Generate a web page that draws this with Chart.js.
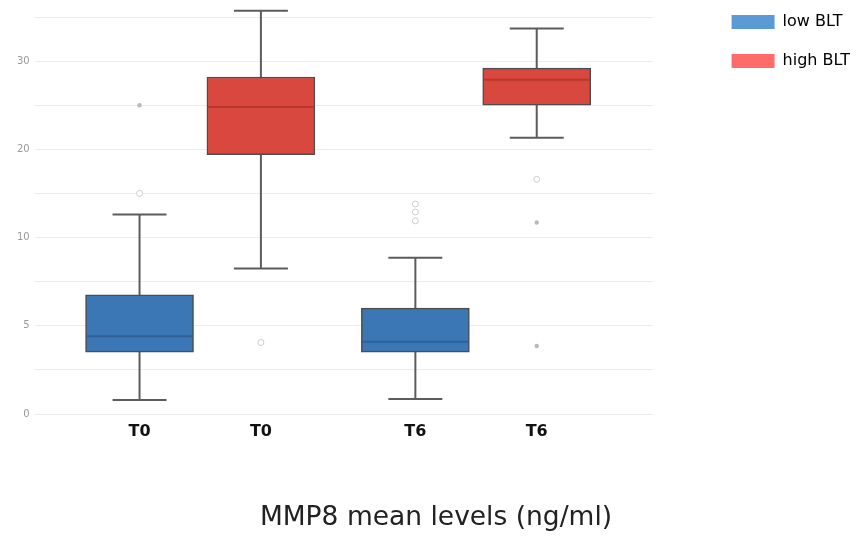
<!DOCTYPE html>
<html>
<head>
<meta charset="utf-8">
<script src="https://cdn.jsdelivr.net/npm/chart.js@4"></script>
<style>
  html, body { margin: 0; padding: 0; background: #fff; }
</style>
</head>
<body>
<canvas id="chart" width="860" height="540"></canvas>
<script>
// categories and axis labels
const groups = ['T0', 'T6'];
const seriesNames = ['low BLT', 'high BLT'];
const yTickValues = [0, 5, 10, 20, 30];

// box statistics, one value per group (ng/ml)
const lowMin = [0.8, 0.85];
const lowQ1 = [3.5, 3.5];
const lowMedian = [4.4, 4.1];
const lowQ3 = [6.75, 6.0];
const lowMax = [12.6, 8.85];

const highMin = [8.25, 21.3];
const highQ1 = [19.4, 25.0];
const highMedian = [24.8, 27.9];
const highQ3 = [28.2, 29.2];
const highMax = [35.7, 33.7];

// outliers per group: rings are hollow circles, dots are small filled points
const lowOutRings = [[15.0], [13.8, 12.9, 11.9]];
const lowOutDots = [[25.0], []];
const highOutRings = [[4.05], [16.6]];
const highOutDots = [[], [11.7, 3.85]];

const boxFill = ['#3b77b4', '#d9483f'];
const medianColor = ['#2d6199', '#b8362f'];
const legendFill = ['#5b9bd5', '#ff6b6b'];
const offsets = [-0.22, 0.22];

// the y axis is spaced evenly per tick (0, 5, 10, 20, 30), so map values onto tick steps
function toUnit(v) {
  const t = yTickValues;
  for (let i = 0; i < t.length - 1; i++) {
    if (v <= t[i + 1]) return i + (v - t[i]) / (t[i + 1] - t[i]);
  }
  const last = t.length - 1;
  return last + (v - t[last]) / (t[last] - t[last - 1]);
}

const xPos = (g, s) => g + offsets[s];

const stats = [
  { min: lowMin, q1: lowQ1, med: lowMedian, q3: lowQ3, max: lowMax },
  { min: highMin, q1: highQ1, med: highMedian, q3: highQ3, max: highMax }
];

function outlierPoints(list, s) {
  return list.flatMap((vals, i) => vals.map(v => ({ x: xPos(i, s), y: toUnit(v) })));
}

const tickPositions = [];
const tickLabels = [];
groups.forEach((g, i) => {
  offsets.forEach((o, s) => {
    tickPositions.push(xPos(i, s));
    tickLabels.push(g);
  });
});

const boxDatasets = stats.map((st, s) => ({
  type: 'bar',
  label: seriesNames[s],
  data: groups.map((g, i) => ({ x: xPos(i, s), y: [toUnit(st.q1[i]), toUnit(st.q3[i])] })),
  backgroundColor: boxFill[s],
  borderColor: '#4d4d4d',
  borderWidth: 1.5,
  borderSkipped: false,
  barThickness: 108,
  grouped: false,
  order: 2
}));

const ringDatasets = [lowOutRings, highOutRings].map((list, s) => ({
  type: 'scatter',
  label: 'rings',
  data: outlierPoints(list, s),
  pointRadius: 3,
  pointBorderWidth: 1,
  pointBorderColor: '#cdcdcd',
  pointBackgroundColor: '#ffffff',
  order: 1
}));

const dotDatasets = [lowOutDots, highOutDots].map((list, s) => ({
  type: 'scatter',
  label: 'dots',
  data: outlierPoints(list, s),
  pointRadius: 2.2,
  pointBorderWidth: 0,
  pointBackgroundColor: '#b9b9b9',
  order: 1
}));

// whiskers behind the boxes, median lines on top
const boxWhiskers = {
  id: 'boxWhiskers',
  beforeDatasetsDraw(chart) {
    const { ctx, scales: { x, y } } = chart;
    ctx.save();
    ctx.strokeStyle = '#5c5c5c';
    ctx.lineWidth = 2;
    stats.forEach((st, s) => {
      const bars = chart.getDatasetMeta(s).data;
      groups.forEach((g, i) => {
        const px = x.getPixelForValue(xPos(i, s));
        const half = bars[i].width / 4;
        const top = y.getPixelForValue(toUnit(st.max[i]));
        const bottom = y.getPixelForValue(toUnit(st.min[i]));
        ctx.beginPath();
        ctx.moveTo(px, top);
        ctx.lineTo(px, bottom);
        ctx.moveTo(px - half, top);
        ctx.lineTo(px + half, top);
        ctx.moveTo(px - half, bottom);
        ctx.lineTo(px + half, bottom);
        ctx.stroke();
      });
    });
    ctx.restore();
  },
  afterDatasetsDraw(chart) {
    const { ctx, scales: { x, y } } = chart;
    ctx.save();
    ctx.lineWidth = 2;
    stats.forEach((st, s) => {
      const bars = chart.getDatasetMeta(s).data;
      ctx.strokeStyle = medianColor[s];
      groups.forEach((g, i) => {
        const px = x.getPixelForValue(xPos(i, s));
        const half = bars[i].width / 2 - 1;
        const py = y.getPixelForValue(toUnit(st.med[i]));
        ctx.beginPath();
        ctx.moveTo(px - half, py);
        ctx.lineTo(px + half, py);
        ctx.stroke();
      });
    });
    ctx.restore();
  }
};

// leave a gap between plot and legend, and lift the legend to the top edge
const LEGEND_GAP = 56;
const LEGEND_LIFT = 26;
const legendSpacer = {
  id: 'legendSpacer',
  beforeInit(chart) {
    const legend = chart.legend;
    const fit = legend.fit;
    legend.fit = function () {
      fit.call(this);
      this.width += LEGEND_GAP;
    };
  },
  afterLayout(chart) {
    chart.legend.left += LEGEND_GAP;
    chart.legend.top -= LEGEND_LIFT;
  }
};

new Chart(document.getElementById('chart'), {
  type: 'bar',
  data: { datasets: [...boxDatasets, ...ringDatasets, ...dotDatasets] },
  options: {
    responsive: false,
    animation: false,
    devicePixelRatio: 1,
    layout: { padding: { left: 12, top: 17, right: 0, bottom: 0 } },
    plugins: {
      tooltip: { enabled: false },
      legend: {
        position: 'right',
        align: 'start',
        labels: {
          boxWidth: 43,
          boxHeight: 14,
          padding: 23,
          color: '#333',
          font: { family: 'DejaVu Sans', size: 16 },
          generateLabels: () => seriesNames.map((name, s) => ({
            text: name,
            fillStyle: legendFill[s],
            strokeStyle: legendFill[s],
            lineWidth: 0,
            hidden: false,
            datasetIndex: s
          }))
        }
      },
      title: {
        display: true,
        position: 'bottom',
        text: 'MMP8 mean levels (ng/ml)',
        color: '#222',
        font: { family: 'DejaVu Sans', size: 26.5, weight: 'normal' },
        padding: { top: 53, bottom: 6 }
      }
    },
    scales: {
      x: {
        type: 'linear',
        offset: false,
        min: -0.6,
        max: 1.64,
        grid: { display: false, drawTicks: false },
        border: { display: false },
        afterBuildTicks: axis => {
          axis.ticks = tickPositions.map(v => ({ value: v }));
        },
        ticks: {
          padding: 8,
          color: '#111',
          font: { family: 'DejaVu Sans', size: 16, weight: 'bold' },
          callback: (v, i) => tickLabels[i]
        }
      },
      y: {
        type: 'linear',
        min: 0,
        max: 4.5,
        grid: { color: '#ececec', lineWidth: 1, drawTicks: false },
        border: { display: false },
        ticks: {
          stepSize: 0.5,
          padding: 5,
          color: '#9a9a9a',
          font: { family: 'DejaVu Sans', size: 10 },
          callback: v => (Number.isInteger(v) ? String(yTickValues[v]) : '')
        }
      }
    }
  },
  plugins: [boxWhiskers, legendSpacer]
});
</script>
</body>
</html>
